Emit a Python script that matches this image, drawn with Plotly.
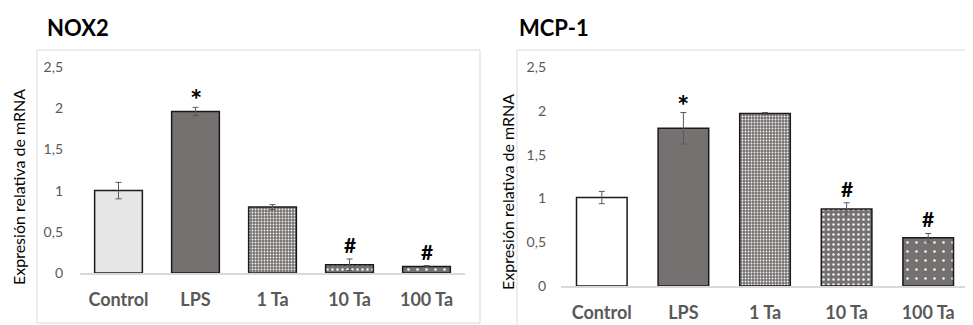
import plotly.graph_objects as go

categories = ["Control", "LPS", "1 Ta", "10 Ta", "100 Ta"]

nox2_values = [1.00, 1.96, 0.80, 0.10, 0.08]
nox2_errors = [0.10, 0.05, 0.03, 0.07, 0.01]
nox2_marks = ["", "*", "", "#", "#"]

mcp1_values = [1.01, 1.80, 1.97, 0.88, 0.55]
mcp1_errors = [0.07, 0.18, 0.01, 0.07, 0.05]
mcp1_marks = ["", "*", "", "#", "#"]

ytick_vals = [0, 0.5, 1, 1.5, 2, 2.5]
ytick_text = ["0", "0,5", "1", "1,5", "2", "2,5"]

W, H = 973, 325
OX, OY = 8, 8  # page offset of the figure in the browser


def px(x):
    return (x - OX) / W


def py(y):
    return 1 - (y - OY) / H


DARK = "#767171"
FONT = "Lato"

nox2_fill = ["#e7e6e6", DARK, DARK, DARK, DARK]
mcp1_fill = ["#ffffff", DARK, DARK, DARK, DARK]
pattern_shape = ["", "", ".", ".", "."]
pattern_size = [8, 8, 3, 5, 9]
pattern_solid = [0.2, 0.2, 0.3, 0.2, 0.07]

fig = go.Figure()


def add_panel(values, errors, fills, xa, ya):
    fig.add_trace(go.Bar(
        x=categories, y=values,
        xaxis=xa, yaxis=ya,
        marker=dict(
            color=fills,
            line=dict(color="#1a1a1a", width=1.5),
            pattern=dict(shape=pattern_shape, fgcolor="#ffffff", fgopacity=0.9,
                         size=pattern_size, solidity=pattern_solid,
                         fillmode="overlay"),
        ),
        error_y=dict(type="data", array=errors, visible=True,
                     color="#595959", thickness=1, width=3),
        showlegend=False, hoverinfo="skip",
    ))


add_panel(nox2_values, nox2_errors, nox2_fill, "x", "y")
add_panel(mcp1_values, mcp1_errors, mcp1_fill, "x2", "y2")

annotations = []
for vals, errs, marks, xr, yr in [
    (nox2_values, nox2_errors, nox2_marks, "x", "y"),
    (mcp1_values, mcp1_errors, mcp1_marks, "x2", "y2"),
]:
    for c, v, e, m in zip(categories, vals, errs, marks):
        if m:
            annotations.append(dict(
                x=c, y=v + e, xref=xr, yref=yr, text="<b>%s</b>" % m,
                showarrow=False, yanchor="bottom",
                yshift=(-11 if m == "*" else 0),
                font=dict(family=FONT, size=(29 if m == "*" else 21), color="#000000"),
            ))

annotations.append(dict(x=px(45), y=py(12), xref="paper", yref="paper",
                        text="<b>NOX2</b>", showarrow=False, xanchor="left", yanchor="top",
                        font=dict(family=FONT, size=22, color="#000000")))
annotations.append(dict(x=px(517), y=py(12), xref="paper", yref="paper",
                        text="<b>MCP-1</b>", showarrow=False, xanchor="left", yanchor="top",
                        font=dict(family=FONT, size=22, color="#000000")))
annotations.append(dict(x=px(18), y=py(187), xref="paper", yref="paper",
                        text="Expresión relativa de mRNA", showarrow=False, textangle=-90,
                        xanchor="center", yanchor="middle",
                        font=dict(family=FONT, size=16, color="#000000")))
annotations.append(dict(x=px(507), y=py(192), xref="paper", yref="paper",
                        text="Expresión relativa de mRNA", showarrow=False, textangle=-90,
                        xanchor="center", yanchor="middle",
                        font=dict(family=FONT, size=16, color="#000000")))

shapes = [
    dict(type="rect", xref="paper", yref="paper", x0=px(37), x1=px(480),
         y0=py(323), y1=py(50), line=dict(color="#d9d9d9", width=1)),
    dict(type="rect", xref="paper", yref="paper", x0=px(517), x1=px(990),
         y0=py(340), y1=py(50), line=dict(color="#d9d9d9", width=1)),
]

xcommon = dict(type="category", range=[-0.5, 4.5], showgrid=False, zeroline=False,
               showline=True, linecolor="#d9d9d9", linewidth=1.5, ticks="",
               automargin=False,
               tickfont=dict(family=FONT, size=18, color="#595959", weight="bold"),
               fixedrange=True)
ycommon = dict(range=[0, 2.5], showgrid=False, zeroline=False, showline=False,
               tickvals=ytick_vals, ticktext=ytick_text, ticks="",
               automargin=False,
               tickfont=dict(family=FONT, size=14, color="#595959"),
               fixedrange=True)

fig.update_layout(
    width=W, height=H, autosize=False,
    margin=dict(l=0, r=0, t=0, b=0, pad=0, autoexpand=False),
    paper_bgcolor="white", plot_bgcolor="white",
    bargap=0.38,
    xaxis=dict(xcommon, domain=[px(80), px(465)], anchor="y", ticklabelstandoff=10),
    yaxis=dict(ycommon, domain=[py(273), py(67)], anchor="x", ticklabelstandoff=16),
    xaxis2=dict(xcommon, domain=[px(561), px(969)], anchor="y2", ticklabelstandoff=10),
    yaxis2=dict(ycommon, domain=[py(286), py(67)], anchor="x2", ticklabelstandoff=14),
    annotations=annotations,
    shapes=shapes,
)

fig.write_html("out.html")
